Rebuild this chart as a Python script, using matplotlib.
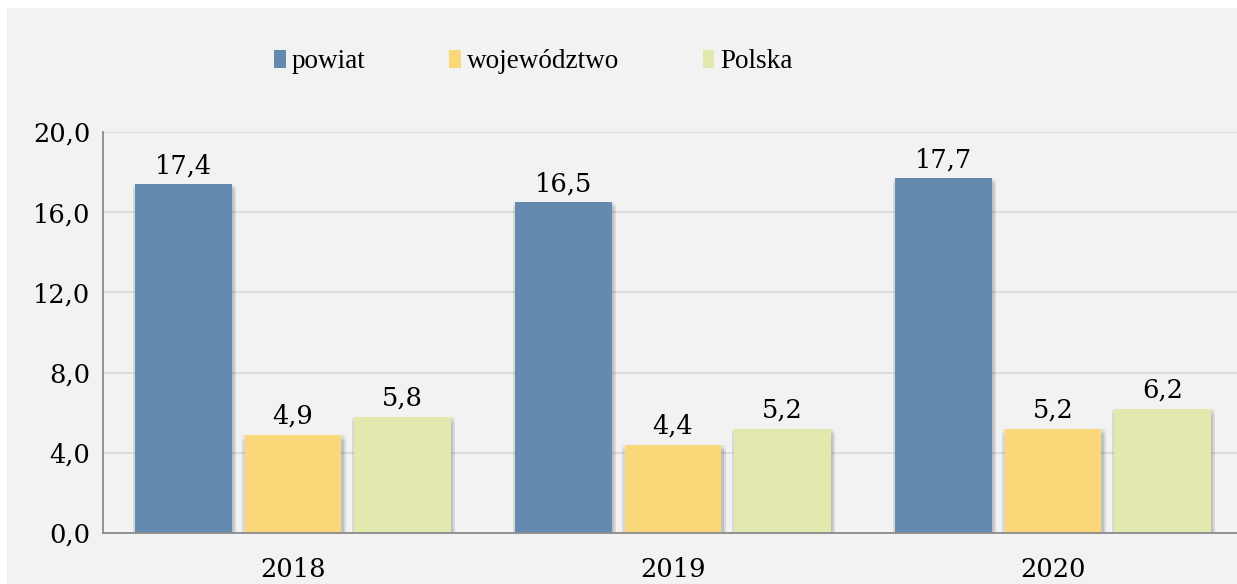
import matplotlib
matplotlib.use("Agg")
import matplotlib.pyplot as plt
from matplotlib.patches import Rectangle
import matplotlib.patheffects as pe
import numpy as np

years = ["2018", "2019", "2020"]
series_names = ["powiat", "województwo", "Polska"]
powiat = [17.4, 16.5, 17.7]
wojewodztwo = [4.9, 4.4, 5.2]
polska = [5.8, 5.2, 6.2]
yticks = [0, 4, 8, 12, 16, 20]

colors = ["#658AAF", "#FAD87A", "#E3E8AE"]
plt.rcParams['font.family'] = ['DejaVu Serif']

W, H = 1237, 584
fig = plt.figure(figsize=(W / 100, H / 100), dpi=100, facecolor="white")
fig.patches.append(Rectangle((7 / W, 0), 1, 1 - 8 / H, transform=fig.transFigure,
                             facecolor="#F2F2F2", edgecolor="none", zorder=-10))

left, right = 103, 1243
bottom, top = 533, 132
ax = fig.add_axes([left / W, 1 - bottom / H, (right - left) / W, (bottom - top) / H])
ax.set_facecolor("none")

x = np.arange(len(years))
bw = 0.255
off = 0.288
shadow = []
for dx in [-1.5, 0, 1.5, 3]:
    for dy in [-0.5, -2, -3.5]:
        shadow.append(pe.SimplePatchShadow(offset=(dx, dy), shadow_rgbFace="#000000", alpha=0.035))
shadow.append(pe.Normal())
for i, (vals, name, c) in enumerate(zip([powiat, wojewodztwo, polska], series_names, colors)):
    bars = ax.bar(x + (i - 1) * off, vals, width=bw, color=c, label=name, zorder=3)
    for b in bars:
        b.set_path_effects(shadow)
    for xi, v in zip(x + (i - 1) * off, vals):
        ax.text(xi, v + 0.3, f"{v:.1f}".replace(".", ","), ha="center", va="bottom",
                fontsize=18.5, color="#000000", zorder=4)

ax.set_xlim(-0.5, 2.5)
ax.set_ylim(0, 20)
ax.set_yticks(yticks)
ax.set_yticklabels([f"{t:.1f}".replace(".", ",") for t in yticks], fontsize=18.5)
ax.set_xticks(x)
ax.set_xticklabels(years, fontsize=18.5)
ax.tick_params(axis="y", length=0, pad=9)
ax.tick_params(axis="x", length=0, pad=17)
ax.grid(axis="y", color="#D9D9D9", linewidth=1.2, zorder=0)
for s in ["top", "right"]:
    ax.spines[s].set_visible(False)
for s in ["left", "bottom"]:
    ax.spines[s].set_color("#8C8C8C")
    ax.spines[s].set_linewidth(1.3)
    ax.spines[s].set_zorder(5)

handles = [Rectangle((0, 0), 1, 1, facecolor=c) for c in colors]
leg = fig.legend(handles, series_names, loc="center left", bbox_to_anchor=(250 / W, 1 - 62 / H),
                 ncol=3, frameon=False,
                 prop={"family": ["Liberation Serif"], "size": 19.5},
                 handlelength=0.42, handleheight=0.6,
                 handletextpad=0.22, columnspacing=3.1)

fig.savefig("out.png", dpi=100, facecolor=fig.get_facecolor())
